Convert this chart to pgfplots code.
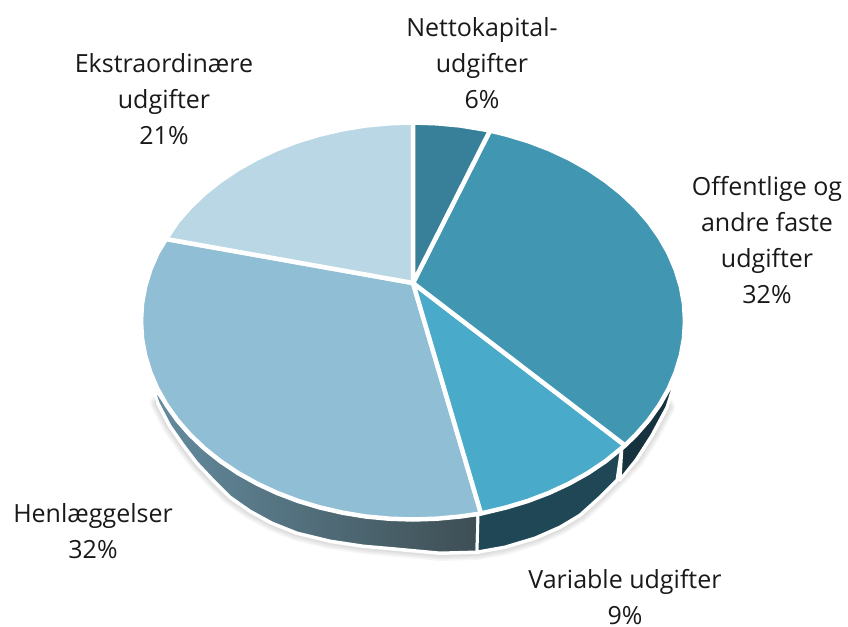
\documentclass[border=0pt]{standalone}
\usepackage{fontspec}
\setmainfont{Open Sans}
\usepackage{pgfplots}
\usepackage{pgfplotstable}
\pgfplotsset{compat=1.18}
\definecolor{cNet}{HTML}{38809A}
\definecolor{cOff}{HTML}{4197B2}
\definecolor{cVar}{HTML}{49ABC9}
\definecolor{cHen}{HTML}{90BED4}
\definecolor{cEks}{HTML}{B9D7E4}
\definecolor{wMid}{HTML}{1F4755}
\definecolor{wRig}{HTML}{16323E}
\definecolor{wA}{HTML}{648C9F}
\definecolor{wB}{HTML}{445962}
\definecolor{wC}{HTML}{3E4E54}
\pgfplotstableread{
x y
413 283
413 122.5
436.7 123.3
460.2 125.5
483.4 129.3
490 130.6
413 283
}\tNet
\pgfplotstableread{
x y
413 283
490 130.6
506 134.5
528 141.1
549 149.1
569 158.4
587.8 168.9
605.3 180.6
621.4 193.4
635.8 207.1
648.6 221.75
659.5 237.1
668.6 253.1
675.7 269.6
680.9 286.5
684 303.7
685 321
684 338.3
680.9 355.5
675.7 372.4
668.6 388.9
659.5 404.9
648.6 420.25
635.8 434.9
625 445.4
413 283
}\tOff
\pgfplotstableread{
x y
413 283
625 445.4
605.3 461.4
587.8 473.1
569 483.6
549 492.9
528 500.9
506 507.5
481 513.5
413 283
}\tVar
\pgfplotstableread{
x y
413 283
481 513.5
460.2 516.5
436.7 518.7
413 519.5
389.3 518.7
365.8 516.5
342.6 512.7
320 507.5
298 500.9
277 492.9
257 483.6
238.2 473.1
220.7 461.4
204.6 448.6
190.2 434.9
177.4 420.25
166.5 404.9
157.4 388.9
150.3 372.4
145.1 355.5
142 338.3
141 321
142 303.7
145.1 286.5
150.3 269.6
157.4 253.1
166 239
413 283
}\tHen
\pgfplotstableread{
x y
413 283
166 239
177.4 221.75
190.2 207.1
204.6 193.4
220.7 180.6
238.2 168.9
257 158.4
277 149.1
298 141.1
320 134.5
342.6 129.3
365.8 125.5
389.3 123.3
413 122.5
413 283
}\tEks
\pgfplotstableread{
x y
152 385
166.5 404.9
177.4 420.25
190.2 434.9
204.6 448.6
220.7 461.4
238.2 473.1
257 483.6
277 492.9
298 500.9
320 507.5
342.6 512.7
365.8 516.5
389.3 518.7
413 519.5
436.7 518.7
460.2 516.5
478 514
477 552
440 553
397 549
363 546
330 541
297 533
272 523
250 511
230 497
213 480
197 463
184 446
170 426
158 403
152 385
}\wLeft
\pgfplotstableread{
x y
478 514
506 507.5
528 500.9
549 492.9
569 483.6
587.8 473.1
605.3 461.4
622 446
617 480
600 497
580 515
560 527
535 538
505 547
477 552
478 514
}\wMidT
\pgfplotstableread{
x y
622 446
635.8 434.9
648.6 420.25
659.5 404.9
668.6 388.9
673 388
667 407
652 435
636 460
620 480
622 446
}\wRigT
\pgfplotstableread{
x y
178 385
158 403
170 426
184 446
197 463
213 480
230 497
250 511
272 523
297 533
330 541
363 546
397 549
440 553
477 552
505 547
535 538
560 527
580 515
600 497
617 480
636 460
652 435
667 407
650 385
178 385
}\tOut
\begin{document}
\begin{tikzpicture}
\begin{axis}[
  scale only axis, width=848pt, height=626pt,
  xmin=0, xmax=848, ymin=0, ymax=626, y dir=reverse,
  axis lines=none, clip=false,
  every axis plot/.append style={line join=round},
]
\addplot[draw=none, forget plot] coordinates {(0,0) (848,626)};
\addplot[draw=black, opacity=0.035, line width=16pt, forget plot] table {\tOut};
\addplot[draw=black, opacity=0.035, line width=13pt, forget plot] table {\tOut};
\addplot[draw=black, opacity=0.035, line width=10pt, forget plot] table {\tOut};
\addplot[draw=black, opacity=0.035, line width=7pt, forget plot] table {\tOut};
\addplot[fill=white, draw=white, line width=4pt] table {\tOut};
\addplot[left color=wA, middle color=wB, right color=wC, draw=white, line width=3pt] table {\wLeft};
\addplot[fill=wMid, draw=white, line width=3pt] table {\wMidT};
\addplot[fill=wRig, draw=white, line width=3pt] table {\wRigT};
\addplot[fill=cHen, draw=white, line width=4.5pt] table {\tHen};
\addplot[fill=cVar, draw=white, line width=4.5pt] table {\tVar};
\addplot[fill=cOff, draw=white, line width=4.5pt] table {\tOff};
\addplot[fill=cEks, draw=white, line width=4.5pt] table {\tEks};
\addplot[fill=cNet, draw=white, line width=4.5pt] table {\tNet};
\tikzset{lab/.style={align=center, font=\fontsize{25}{36}\selectfont, text=black!90, inner sep=0pt}}
\node[lab] at (axis cs:482,63) {Nettokapital-\\udgifter\\6\%};
\node[lab] at (axis cs:164,99) {Ekstraordinære\\udgifter\\21\%};
\node[lab] at (axis cs:767,240) {Offentlige og\\andre faste\\udgifter\\32\%};
\node[lab] at (axis cs:93,531) {Henlæggelser\\32\%};
\node[lab] at (axis cs:625,597) {Variable udgifter\\9\%};
\end{axis}
\end{tikzpicture}
\end{document}
